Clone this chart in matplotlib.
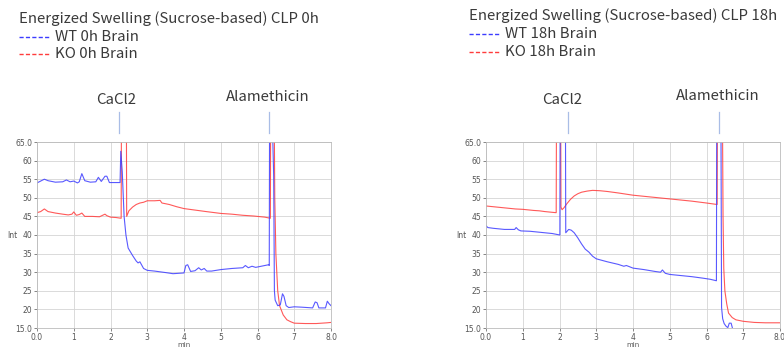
import matplotlib
matplotlib.use("Agg")
import matplotlib.pyplot as plt
from matplotlib.lines import Line2D

W, H = 784, 349
FONT = ["Noto Sans CJK JP", "DejaVu Sans"]
BLUE = "#3c3cff"
RED = "#ff3c3c"
MARK = "#a9bde6"
GRID = "#d4d4d4"
TICK = "#555555"

# ---- data (min, Int); spikes above 65 are clipped ----
wt0_t = [0.0, 0.1, 0.2, 0.3, 0.5, 0.7, 0.8, 0.9, 1.0, 1.1, 1.15, 1.22, 1.3, 1.45, 1.6, 1.67, 1.75,
         1.85, 1.9, 1.97, 2.1, 2.26, 2.28, 2.32, 2.37, 2.42, 2.48, 2.6, 2.7, 2.75, 2.8, 2.9, 3.0,
         3.2, 3.5, 3.7, 4.0, 4.05, 4.1, 4.18, 4.3, 4.4, 4.47, 4.55, 4.62, 4.75, 5.0, 5.3, 5.6,
         5.67, 5.75, 5.85, 5.95, 6.1, 6.3, 6.32, 6.33, 6.37, 6.38, 6.44, 6.46, 6.48, 6.55, 6.62,
         6.68, 6.72, 6.78, 6.85, 7.0, 7.2, 7.5, 7.57, 7.62, 7.67, 7.85, 7.9, 7.95, 8.0]
wt0_v = [54.0, 54.5, 55.0, 54.6, 54.2, 54.3, 54.8, 54.3, 54.5, 54.0, 54.3, 56.5, 54.6, 54.2, 54.3, 55.5, 54.4,
         55.8, 55.8, 54.1, 54.1, 54.1, 62.5, 57.0, 45.0, 40.0, 36.5, 34.5, 33.0, 32.5, 32.8, 31.0, 30.5,
         30.3, 29.9, 29.6, 29.8, 31.8, 32.0, 30.2, 30.4, 31.2, 30.6, 31.0, 30.3, 30.3, 30.7, 31.0, 31.2,
         31.8, 31.2, 31.6, 31.3, 31.6, 32.0, 31.8, 80.0, 80.0, 80.0, 56.0, 25.0, 22.5, 21.0, 21.2,
         24.2, 23.5, 21.0, 20.5, 20.7, 20.6, 20.4, 22.0, 21.8, 20.4, 20.4, 22.2, 21.5, 21.0]

ko0_t = [0.0, 0.1, 0.2, 0.3, 0.5, 0.7, 0.85, 0.95, 1.0, 1.07, 1.15, 1.22, 1.3, 1.5, 1.7, 1.85,
         1.9, 2.0, 2.15, 2.29, 2.3, 2.43, 2.44, 2.5, 2.6, 2.7, 2.8, 2.9, 3.0, 3.2, 3.35, 3.4,
         3.6, 3.8, 4.0, 4.3, 4.6, 5.0, 5.3, 5.6, 5.9, 6.2, 6.35, 6.36, 6.45, 6.47, 6.5, 6.55,
         6.6, 6.7, 6.8, 6.9, 7.0, 7.3, 7.6, 7.9, 8.0]
ko0_v = [46.0, 46.3, 47.0, 46.3, 45.9, 45.6, 45.4, 45.6, 46.2, 45.3, 45.5, 45.9, 45.0, 45.0, 44.9, 45.6,
         45.2, 44.8, 44.7, 44.5, 80.0, 80.0, 45.0, 46.5, 47.5, 48.2, 48.6, 48.8, 49.2, 49.2, 49.3, 48.6,
         48.2, 47.6, 47.1, 46.7, 46.3, 45.8, 45.6, 45.3, 45.1, 44.8, 44.5, 80.0, 80.0, 50.0, 35.0, 25.0,
         21.0, 18.5, 17.2, 16.7, 16.3, 16.2, 16.2, 16.4, 16.5]

wt18_t = [0.0, 0.05, 0.2, 0.5, 0.78, 0.82, 0.88, 0.95, 1.2, 1.5, 1.8, 2.01, 2.02, 2.16, 2.17, 2.25,
          2.32, 2.4, 2.5, 2.6, 2.7, 2.8, 2.9, 3.0, 3.3, 3.6, 3.75, 3.82, 4.0, 4.3, 4.6, 4.75, 4.8,
          4.88, 5.0, 5.3, 5.6, 5.9, 6.1, 6.27, 6.28, 6.39, 6.41, 6.44, 6.48, 6.53, 6.58, 6.62, 6.67,
          6.7, 6.73]
wt18_v = [42.5, 42.0, 41.8, 41.5, 41.5, 42.0, 41.4, 41.1, 41.0, 40.7, 40.4, 40.0, 80.0, 80.0, 40.6, 41.5,
          41.3, 40.6, 39.2, 37.6, 36.2, 35.4, 34.3, 33.6, 32.8, 32.1, 31.6, 31.8, 31.1, 30.7, 30.2, 30.0, 30.6,
          29.7, 29.4, 29.1, 28.8, 28.4, 28.1, 27.7, 80.0, 80.0, 20.5, 17.5, 16.2, 15.5, 15.1, 16.3, 16.3,
          15.2, 14.0]

ko18_t = [0.0, 0.2, 0.5, 0.8, 1.0, 1.3, 1.45, 1.6, 1.8, 1.91, 1.92, 2.03, 2.04, 2.07, 2.12, 2.2,
          2.3, 2.4, 2.5, 2.6, 2.75, 2.9, 3.1, 3.3, 3.6, 4.0, 4.4, 4.8, 5.2, 5.6, 6.0, 6.29, 6.3,
          6.43, 6.45, 6.47, 6.5, 6.55, 6.6, 6.7, 6.8, 7.0, 7.3, 7.6, 8.0]
ko18_v = [47.8, 47.6, 47.3, 47.0, 46.9, 46.6, 46.5, 46.3, 46.1, 46.0, 80.0, 80.0, 47.5, 46.8, 47.3, 48.4,
          49.6, 50.5, 51.1, 51.5, 51.8, 52.0, 51.9, 51.7, 51.3, 50.7, 50.3, 49.9, 49.5, 49.1, 48.6, 48.2, 80.0,
          80.0, 45.0, 31.0, 25.0, 21.5, 19.0, 17.8, 17.2, 16.8, 16.5, 16.4, 16.4]

panels = [
    dict(x0=37, title="Energized Swelling (Sucrose-based) CLP 0h", tx=19, ty=19,
         labels=["WT 0h Brain", "KO 0h Brain"], ly=[37, 54],
         wt=(wt0_t, wt0_v), ko=(ko0_t, ko0_v),
         marks=[("CaCl2", 116, 100, 118.7), ("Alamethicin", 267.5, 97, 269.3)]),
    dict(x0=486, title="Energized Swelling (Sucrose-based) CLP 18h", tx=469, ty=16,
         labels=["WT 18h Brain", "KO 18h Brain"], ly=[34, 52],
         wt=(wt18_t, wt18_v), ko=(ko18_t, ko18_v),
         marks=[("CaCl2", 562.5, 100, 568.3), ("Alamethicin", 718, 96, 718.5)]),
]

yticks = [15, 20, 25, 30, 35, 40, 45, 50, 55, 60, 65]
ylabels = ["15.0", "20", "25", "30", "35", "40", "45", "50", "55", "60", "65.0"]
xticks = [0, 1, 2, 3, 4, 5, 6, 7, 8]
xlabels = ["0.0", "1", "2", "3", "4", "5", "6", "7", "8.0"]


def fx(x):
    return x / W


def fy(y):
    return 1 - y / H


fig = plt.figure(figsize=(W / 100, H / 100), dpi=100, facecolor="white")

for p in panels:
    ax = fig.add_axes([fx(p["x0"]), fy(328), 294 / W, 186 / H])
    ax.plot(*p["ko"], color=RED, lw=0.8, alpha=0.85)
    ax.plot(*p["wt"], color=BLUE, lw=0.8, alpha=0.85)
    ax.set_xlim(0, 8)
    ax.set_ylim(15, 65)
    ax.set_xticks(xticks)
    ax.set_xticklabels(xlabels)
    ax.set_yticks(yticks)
    ax.set_yticklabels(ylabels)
    ax.tick_params(labelsize=5.5, colors=TICK, length=2, width=0.5, pad=1.5)
    ax.grid(color=GRID, lw=0.6)
    ax.set_axisbelow(True)
    for sp in ax.spines.values():
        sp.set_edgecolor("#bbbbbb")
        sp.set_linewidth(0.6)
    ax.set_xlabel("min", fontsize=5, color=TICK, labelpad=0)
    ax.set_ylabel("Int", fontsize=5.5, color=TICK, rotation=0, labelpad=2, va="center")

    # header and legend
    fig.text(fx(p["tx"]), fy(p["ty"]), p["title"], fontsize=10.8, color="#3a3a3a",
             ha="left", va="center", family=FONT)
    for lab, yy, col in zip(p["labels"], p["ly"], [BLUE, RED]):
        fig.add_artist(Line2D([fx(p["tx"]), fx(p["tx"] + 31)], [fy(yy), fy(yy)],
                              transform=fig.transFigure, color=col, lw=1.0,
                              ls=(0, (3, 1.6))))
        fig.text(fx(p["tx"] + 36), fy(yy), lab, fontsize=10.8, color="#3a3a3a",
                 ha="left", va="center", family=FONT)

    # injection markers
    for name, cx, cy, lx in p["marks"]:
        fig.text(fx(cx), fy(cy), name, fontsize=10.8, color="#3a3a3a",
                 ha="center", va="center", family=FONT)
        fig.add_artist(Line2D([fx(lx), fx(lx)], [fy(112), fy(133)],
                              transform=fig.transFigure, color=MARK, lw=0.9))

fig.savefig("out.png", dpi=100, facecolor="white")
